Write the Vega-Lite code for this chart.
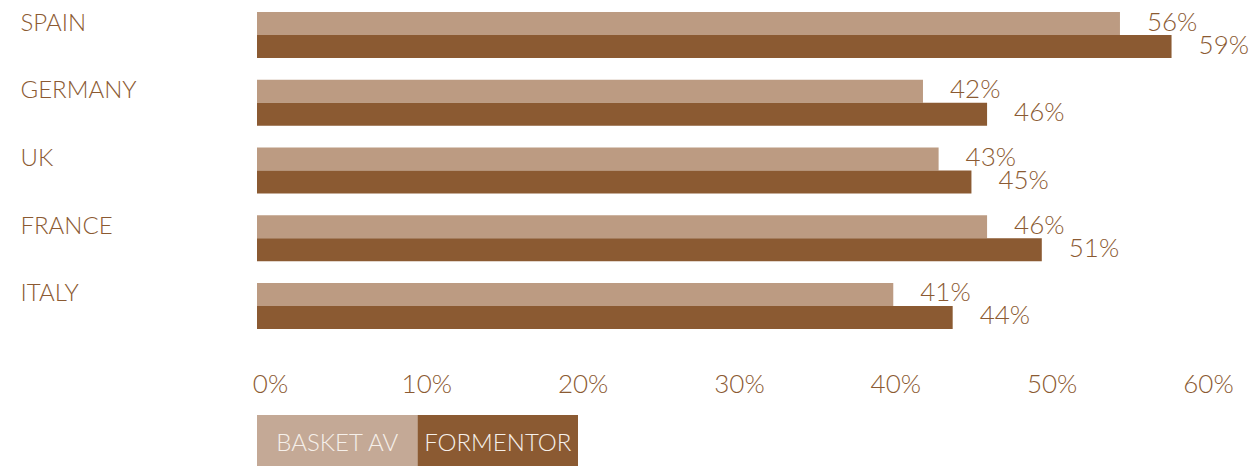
{
  "$schema": "https://vega.github.io/schema/vega-lite/v6.json",
  "padding": {"left": 20, "top": 0, "right": 0, "bottom": 0},
  "background": "white",
  "config": {"view": {"stroke": null}, "font": "Lato"},
  "datasets": {
    "bars": [
      {"country": "SPAIN", "series": "BASKET AV", "value": 0.552, "label": "56%"},
      {"country": "SPAIN", "series": "FORMENTOR", "value": 0.585, "label": "59%"},
      {"country": "GERMANY", "series": "BASKET AV", "value": 0.426, "label": "42%"},
      {"country": "GERMANY", "series": "FORMENTOR", "value": 0.467, "label": "46%"},
      {"country": "UK", "series": "BASKET AV", "value": 0.436, "label": "43%"},
      {"country": "UK", "series": "FORMENTOR", "value": 0.457, "label": "45%"},
      {"country": "FRANCE", "series": "BASKET AV", "value": 0.467, "label": "46%"},
      {"country": "FRANCE", "series": "FORMENTOR", "value": 0.502, "label": "51%"},
      {"country": "ITALY", "series": "BASKET AV", "value": 0.407, "label": "41%"},
      {"country": "ITALY", "series": "FORMENTOR", "value": 0.445, "label": "44%"}
    ],
    "legend": [
      {"series": "BASKET AV"},
      {"series": "FORMENTOR"}
    ]
  },
  "vconcat": [
    {
      "width": 938,
      "height": 341,
      "data": {"name": "bars"},
      "encoding": {
        "y": {
          "field": "country", "type": "nominal",
          "sort": ["SPAIN", "GERMANY", "UK", "FRANCE", "ITALY"],
          "scale": {"paddingInner": 0.32, "paddingOuter": 0.177},
          "axis": {
            "title": null, "domain": false, "ticks": false,
            "labelAlign": "left", "labelPadding": 237, "labelOffset": -11.5,
            "labelBaseline": "middle", "labelFontSize": 24, "labelFont": "Lato",
            "labelFontWeight": 300, "labelColor": "#8b5a32"
          }
        },
        "yOffset": {"field": "series", "type": "nominal", "sort": ["BASKET AV", "FORMENTOR"]},
        "x": {
          "field": "value", "type": "quantitative",
          "scale": {"domain": [0, 0.6], "nice": false},
          "axis": {
            "title": null, "orient": "bottom", "values": [0, 0.1, 0.2, 0.3, 0.4, 0.5, 0.6],
            "format": ".0%", "domain": false, "ticks": false, "grid": false,
            "labelAlign": "center", "labelOffset": 13, "labelPadding": 30,
            "labelBaseline": "top", "labelFlush": false, "labelOverlap": false,
            "labelFontSize": 26, "labelFont": "Lato", "labelFontWeight": 300,
            "labelColor": "#8b5a32"
          }
        }
      },
      "layer": [
        {
          "mark": {"type": "bar"},
          "encoding": {
            "color": {
              "field": "series", "type": "nominal",
              "scale": {"domain": ["BASKET AV", "FORMENTOR"], "range": ["#bc9b82", "#8b5a32"]},
              "legend": null
            }
          }
        },
        {
          "mark": {"type": "text", "align": "left", "baseline": "middle", "dx": 27, "dy": -1, "fontSize": 26, "fontWeight": 300, "color": "#8b5a32"},
          "encoding": {
            "text": {"field": "label", "type": "nominal"}
          }
        }
      ]
    },
    {
      "width": 321,
      "height": 51,
      "data": {"name": "legend"},
      "encoding": {
        "x": {
          "field": "series", "type": "nominal", "sort": ["BASKET AV", "FORMENTOR"],
          "scale": {"paddingInner": 0, "paddingOuter": 0},
          "axis": null
        },
        "y": {
          "datum": "legend", "type": "nominal",
          "scale": {"paddingInner": 0, "paddingOuter": 0},
          "axis": null
        }
      },
      "layer": [
        {
          "mark": {"type": "bar"},
          "encoding": {
            "color": {
              "field": "series", "type": "nominal",
              "scale": {"domain": ["BASKET AV", "FORMENTOR"], "range": ["#c4a996", "#8b5a32"]},
              "legend": null
            }
          }
        },
        {
          "mark": {"type": "text", "align": "center", "baseline": "middle", "dy": 3, "fontSize": 24, "fontWeight": 300, "color": "#f6f0ea"},
          "encoding": {"text": {"field": "series", "type": "nominal"}}
        }
      ]
    }
  ],
  "resolve": {"scale": {"color": "independent"}},
  "bounds": "flush",
  "spacing": 74
}
